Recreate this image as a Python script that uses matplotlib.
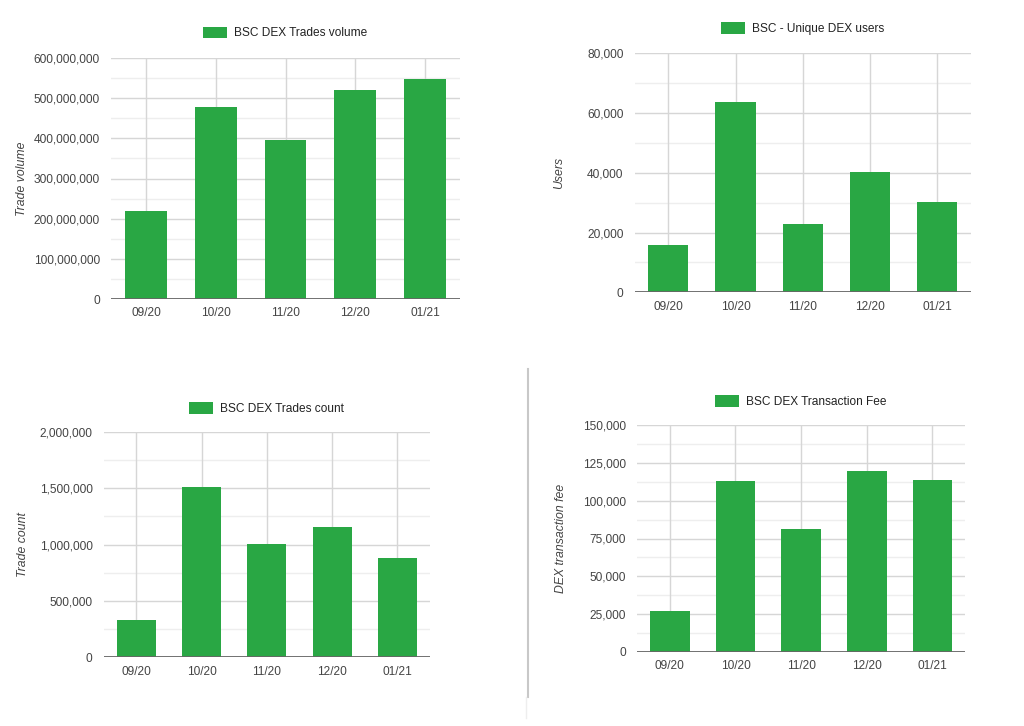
import numpy as np
import matplotlib
matplotlib.use('Agg')
import matplotlib.pyplot as plt
from matplotlib.lines import Line2D
from matplotlib.ticker import FuncFormatter

plt.rcParams['font.family'] = ['Liberation Sans', 'DejaVu Sans']

months = ['09/20', '10/20', '11/20', '12/20', '01/21']
trade_volume = [219e6, 479e6, 395e6, 520e6, 547e6]
unique_users = [16000, 63800, 22900, 40400, 30100]
trade_count = [334000, 1512000, 1008000, 1155000, 879000]
tx_fee = [27200, 113100, 81300, 120000, 113800]

W, H = 1024, 726
fig = plt.figure(figsize=(W / 100, H / 100), dpi=100)

GREEN = '#29a744'

def px_axes(x0, x1, ytop, ybot):
    return fig.add_axes([x0 / W, 1 - ybot / H, (x1 - x0) / W, (ybot - ytop) / H])

def bar_chart(ax, values, legend, ylabel, ymax, step, label_x):
    x = np.arange(len(months))
    # major / minor horizontal grid
    for v in np.arange(0, ymax + step / 2, step):
        ax.axhline(v, color='#d6d6d6', lw=1, zorder=0)
    for v in np.arange(step / 2, ymax, step):
        ax.axhline(v, color='#eeeeee', lw=1, zorder=0)
    for xi in x:
        ax.axvline(xi, color='#d6d6d6', lw=1, zorder=0)
    ax.bar(x, values, width=0.6, color=GREEN, label=legend, zorder=2)
    ax.axhline(0, color='#666666', lw=1.3, zorder=3)
    ax.set_xlim(-0.5, len(months) - 0.5)
    ax.set_ylim(0, ymax)
    ax.set_yticks(np.arange(0, ymax + step / 2, step))
    ax.yaxis.set_major_formatter(FuncFormatter(lambda v, p: f'{v:,.0f}'))
    ax.set_xticks(x)
    ax.set_xticklabels(months)
    ax.tick_params(axis='y', length=0, pad=8, labelsize=8.6, labelcolor='#444444')
    ax.tick_params(axis='x', length=0, pad=6, labelsize=8.6, labelcolor='#444444')
    for s in ax.spines.values():
        s.set_visible(False)
    ax.set_ylabel(ylabel, fontsize=8.8, style='italic', color='#444444', va='center')
    ax.yaxis.set_label_coords(label_x, 0.5)
    ax.legend(loc='center', bbox_to_anchor=(0.5, 1.104), frameon=False,
              fontsize=8.6, handlelength=2.0, handleheight=1.1, handletextpad=0.6,
              labelcolor='#222222')

ax1 = px_axes(111, 460, 58, 299)
bar_chart(ax1, trade_volume, 'BSC DEX Trades volume', 'Trade volume', 600e6, 100e6, -0.255)

ax2 = px_axes(634.7, 970.7, 53.3, 292.3)
bar_chart(ax2, unique_users, 'BSC - Unique DEX users', 'Users', 80000, 20000, -0.226)

ax3 = px_axes(103.7, 430, 432, 657.3)
bar_chart(ax3, trade_count, 'BSC DEX Trades count', 'Trade count', 2e6, 500000, -0.248)

ax4 = px_axes(637, 965.3, 425.3, 651.7)
bar_chart(ax4, tx_fee, 'BSC DEX Transaction Fee', 'DEX transaction fee', 150000, 25000, -0.231)

# separator between the two lower charts
fig.add_artist(Line2D([528 / W, 528 / W], [1 - 369 / H, 1 - 697 / H], color='#c8c8c8', lw=1.5))
fig.add_artist(Line2D([526 / W, 526 / W], [1 - 697 / H, 1 - 718 / H], color='#eeeeee', lw=1))

fig.savefig('out.png', dpi=100, facecolor='white')
